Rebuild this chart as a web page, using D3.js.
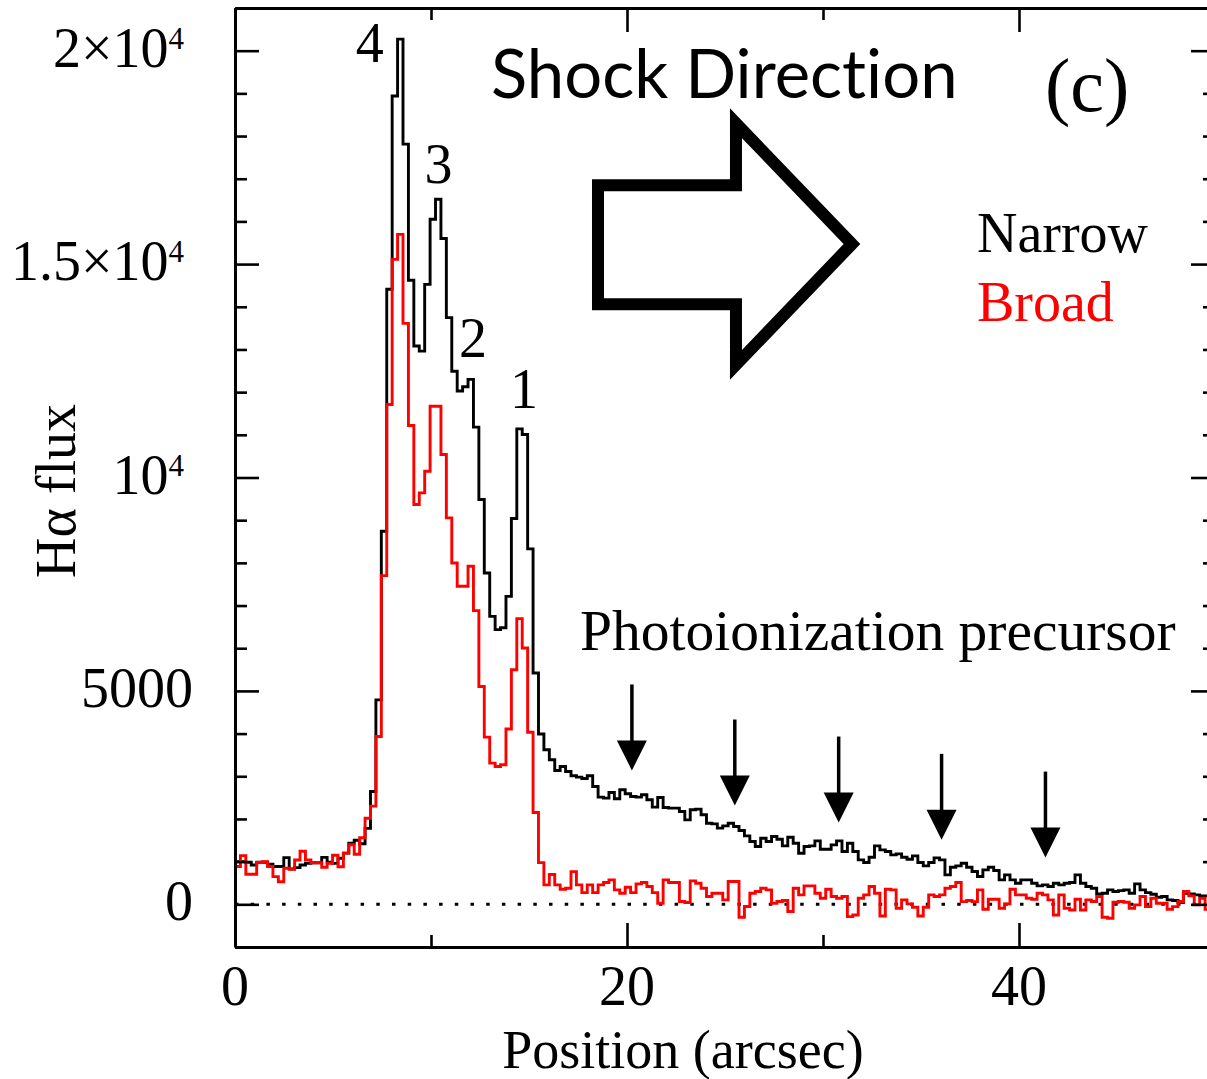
<!DOCTYPE html>
<html>
<head>
<meta charset="utf-8">
<script src="https://cdn.jsdelivr.net/npm/d3@7"></script>
<style>
  body { margin: 0; background: #fff; }
  svg { display: block; }
  text { font-family: "Liberation Serif", "Times New Roman", serif; fill: #000; }
  .sans { font-family: Lato, "Liberation Sans", sans-serif; font-variant-ligatures: none; font-feature-settings: "liga" 0, "clig" 0; }
</style>
</head>
<body>
<svg id="chart" width="1207" height="1079"></svg>
<script>
// Spatial bin size of the extracted profile (arcsec)
const binWidth = 0.2765;

// Narrow-component H-alpha flux per bin
const narrowFlux = [
  1000, 1000, 985, 920, 985, 985, 940, 885, 885, 1095,
  830, 860, 920, 960, 975, 975, 1100, 985, 960, 1080,
  1200, 1430, 1500, 1420, 1780, 2645, 4790, 8740, 14410, 18940,
  20270, 17810, 14620, 13080, 12960, 14525, 16050, 16520, 15600, 13745,
  12490, 12025, 12125, 12300, 11180, 9483, 7764, 6747, 6435, 6480,
  7216, 9038, 11140, 11007, 8327, 5420, 3990, 3620, 3386, 3135,
  3229, 3112, 3011, 2980, 2949, 3011, 2760, 2511, 2488, 2620,
  2472, 2683, 2590, 2527, 2511, 2566, 2449, 2277, 2503, 2269,
  2253, 2253, 2175, 1979, 2214, 2230, 2097, 1901, 1885, 1784,
  1838, 1901, 1823, 1729, 1604, 1471, 1354, 1549, 1471, 1588,
  1526, 1370, 1573, 1432, 1198, 1354, 1370, 1487, 1291, 1291,
  1393, 1487, 1237, 1432, 1237, 1041, 979, 1104, 1370, 1276,
  1237, 1158, 1182, 1104, 1057, 1135, 979, 901, 979, 1088,
  1041, 690, 870, 901, 963, 870, 768, 651, 807, 870,
  792, 573, 690, 572, 494, 572, 572, 494, 432, 455,
  416, 494, 455, 494, 510, 689, 494, 416, 377, 244,
  260, 338, 299, 322, 338, 260, 479, 338, 275, 236,
  166, 182, 104, 88, 41, 260, 244, 221, 197, 197
];

// Broad-component H-alpha flux per bin
const broadFlux = [
  885, 1140, 705, 705, 980, 1000, 885, 650, 530, 845,
  820, 1040, 1245, 1040, 975, 975, 870, 960, 1150, 880,
  1200, 1395, 1174, 1560, 2015, 2300, 3933, 7700, 11711, 15110,
  15697, 13610, 11218, 9366, 9640, 10147, 11671, 11671, 10538, 9054,
  7998, 7451, 7451, 7920, 6880, 5105, 3918, 3309, 3229, 3269,
  4106, 5497, 6693, 6005, 4030, 2150, 978, 455, 700, 455,
  354, 377, 767, 455, 275, 455, 275, 455, 510, 572,
  338, 260, 400, 275, 478, 510, 416, 275, 26, 572,
  510, 510, 65, 41, 549, 494, 377, 182, 260, 260,
  104, 533, 533, -303, -52, 260, 299, 377, 338, 26,
  65, 88, -170, 377, 221, 432, 432, 260, 143, 354,
  182, 143, 182, -288, -249, 143, 221, 416, 260, -272,
  354, 338, -93, 104, 10, -70, -272, -70, 221, 182,
  221, 377, 416, 510, 64, 88, 64, 338, -116, 119,
  119, -93, 10, 354, 221, 221, 143, 119, 260, 221,
  104, -249, 221, -93, -132, 119, -132, 104, 65, 182,
  -303, -327, 49, 65, 49, -93, -14, 182, -54, 143,
  26, 26, -116, -54, 65, 299, 197, -14, 143, -116
];

// Axis ticks
const xMajorTicks = [0, 20, 40];
const xMinorTicks = [10, 30, 50];
const yMajorTicks = [0, 5000, 10000, 15000, 20000];
const yTickText = ["0", "5000", "10", "1.5×10", "2×10"];
const yTickExponent = ["", "", "4", "4", "4"];

// Peak numbering: label, position (arcsec), height (flux)
const peakNames = ["4", "3", "2", "1"];
const peakNameX = [6.87, 10.38, 12.14, 14.74];
const peakNameY = [19740, 16900, 12820, 11630];

// Precursor markers: position (arcsec) and arrow tip height (flux)
const precursorX = [20.25, 25.5, 30.8, 36.05, 41.35];
const precursorTip = [3136, 2315, 1916, 1510, 1095];

// Block arrow for the shock direction (arcsec, flux)
const shockArrowX = [18.52, 25.56, 25.56, 31.48, 25.56, 25.56, 18.52];
const shockArrowY = [16850, 16850, 18300, 15470, 12640, 14060, 14060];

const svg = d3.select("#chart");
const x = d3.scaleLinear().domain([0, 50]).range([235, 1215]);
const y = d3.scaleLinear().domain([-1000, 21000]).range([947, 8]);

svg.append("rect").attr("width", 1207).attr("height", 1079).attr("fill", "#fff");

svg.append("defs").append("clipPath").attr("id", "plotClip")
  .append("rect").attr("x", 235).attr("y", 8).attr("width", 980).attr("height", 939);

const plot = svg.append("g").attr("clip-path", "url(#plotClip)");

// zero-flux reference
plot.append("line")
  .attr("x1", x(0)).attr("x2", x(50)).attr("y1", y(0)).attr("y2", y(0))
  .attr("stroke", "#000").attr("stroke-width", 3).attr("stroke-dasharray", "3.5,12.2");

function stepPoints(vals) {
  const pts = vals.map((v, i) => [i * binWidth, v]);
  pts.push([vals.length * binWidth, vals[vals.length - 1]]);
  return pts;
}
const line = d3.line().x(d => x(d[0])).y(d => y(d[1])).curve(d3.curveStepAfter);

plot.append("path").datum(stepPoints(narrowFlux))
  .attr("d", line).attr("fill", "none").attr("stroke", "#000")
  .attr("stroke-width", 2.9).attr("stroke-linejoin", "miter");
plot.append("path").datum(stepPoints(broadFlux))
  .attr("d", line).attr("fill", "none").attr("stroke", "#ff0000")
  .attr("stroke-width", 2.9).attr("stroke-linejoin", "miter");

// Axes: frame with inward ticks on all four sides
const yMinor = d3.range(-1000, 21001, 1000).filter(v => v % 5000 !== 0);
function styleAxis(g, keepDomain) {
  g.selectAll(".tick line").attr("stroke", "#000").attr("stroke-width", 2.6);
  g.selectAll(".tick text").remove();
  if (keepDomain) g.select(".domain").attr("stroke", "#000").attr("stroke-width", 3);
  else g.select(".domain").remove();
}
const axes = [
  [d3.axisLeft(y).tickValues(yMajorTicks).tickSize(-24), 235, 0, true],
  [d3.axisLeft(y).tickValues(yMinor).tickSize(-12), 235, 0, false],
  [d3.axisRight(y).tickValues(yMajorTicks).tickSize(-24), 1215, 0, true],
  [d3.axisRight(y).tickValues(yMinor).tickSize(-12), 1215, 0, false],
  [d3.axisBottom(x).tickValues(xMajorTicks).tickSize(-24), 0, 947, true],
  [d3.axisBottom(x).tickValues(xMinorTicks).tickSize(-12), 0, 947, false],
  [d3.axisTop(x).tickValues(xMajorTicks).tickSize(-24), 0, 8, true],
  [d3.axisTop(x).tickValues(xMinorTicks).tickSize(-12), 0, 8, false]
];
axes.forEach(([ax, tx, ty, dom]) => {
  const g = svg.append("g").attr("transform", `translate(${tx},${ty})`)
    .call(ax.tickSizeOuter(0));
  styleAxis(g, dom);
});

// Y tick labels with powers of ten
yMajorTicks.forEach((v, i) => {
  const t = svg.append("text")
    .attr("x", yTickExponent[i] ? 184 : 193)
    .attr("y", y(v) + 16)
    .attr("text-anchor", "end")
    .attr("font-size", 56)
    .text(yTickText[i]);
  if (yTickExponent[i]) {
    t.append("tspan").attr("font-size", 31).attr("dy", -18).text(yTickExponent[i]);
  }
});

// X tick labels
svg.selectAll(".xlab").data(xMajorTicks).enter().append("text")
  .attr("class", "xlab")
  .attr("x", d => x(d)).attr("y", 1005)
  .attr("text-anchor", "middle").attr("font-size", 56)
  .text(d => d);

// Axis titles
svg.append("text").attr("x", 683).attr("y", 1068)
  .attr("text-anchor", "middle").attr("font-size", 54)
  .text("Position (arcsec)");
svg.append("text").attr("transform", "translate(75,491) rotate(-90)")
  .attr("text-anchor", "middle").attr("font-size", 56)
  .text("Hα flux");

// Peak numbers
peakNames.forEach((n, i) => {
  svg.append("text").attr("x", x(peakNameX[i])).attr("y", y(peakNameY[i]))
    .attr("text-anchor", "middle").attr("font-size", 56).text(n);
});

// Shock direction block arrow
const arrowPath = d3.line().curve(d3.curveLinearClosed)(
  shockArrowX.map((v, i) => [x(v), y(shockArrowY[i])]));
svg.append("path").attr("d", arrowPath)
  .attr("fill", "none").attr("stroke", "#000")
  .attr("stroke-width", 12).attr("stroke-linejoin", "miter").attr("stroke-miterlimit", 10);

svg.append("text").attr("class", "sans").attr("x", 491).attr("y", 98)
  .attr("font-size", 67).text("Shock Direction");

svg.append("text").attr("x", 1045).attr("y", 111)
  .attr("font-size", 76).text("(c)");

// Legend
svg.append("text").attr("x", 977).attr("y", 252).attr("font-size", 56).text("Narrow");
svg.append("text").attr("x", 977).attr("y", 321).attr("font-size", 56)
  .style("fill", "#ff0000").text("Broad");

// Precursor annotation and markers
svg.append("text").attr("x", 580).attr("y", 650).attr("font-size", 57.5)
  .text("Photoionization precursor");

const arrowLen = 86, headLen = 30, headHalf = 15;
precursorX.forEach((px, i) => {
  const cx = x(px), tip = y(precursorTip[i]);
  svg.append("line").attr("x1", cx).attr("x2", cx)
    .attr("y1", tip - arrowLen).attr("y2", tip - headLen + 2)
    .attr("stroke", "#000").attr("stroke-width", 3.5);
  svg.append("path")
    .attr("d", `M${cx - headHalf},${tip - headLen}L${cx + headHalf},${tip - headLen}L${cx},${tip}Z`)
    .attr("fill", "#000");
});
</script>
</body>
</html>
